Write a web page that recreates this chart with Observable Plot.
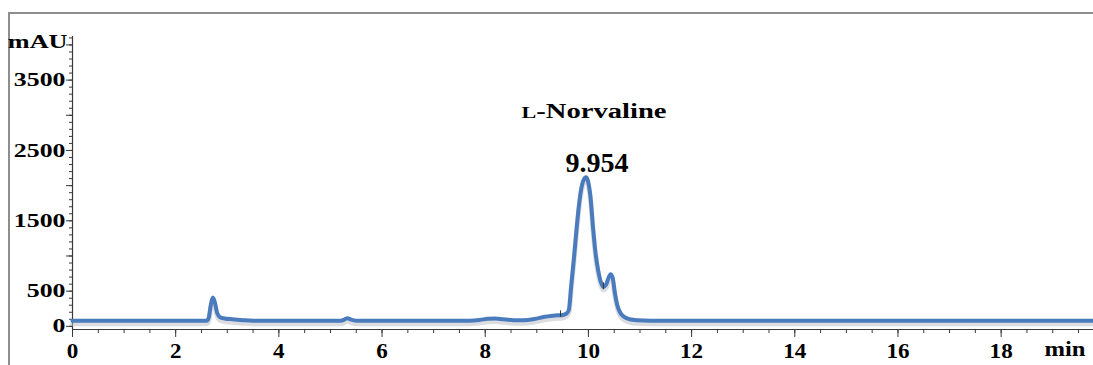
<!DOCTYPE html>
<html>
<head>
<meta charset="utf-8">
<script src="https://cdn.jsdelivr.net/npm/d3@7"></script>
<script src="https://cdn.jsdelivr.net/npm/@observablehq/plot@0.6"></script>
<style>
  html, body { margin: 0; padding: 0; background: #fff; }
  #wrap { position: relative; width: 1093px; height: 365px; overflow: hidden; }
  #border { position: absolute; left: 8px; top: 12px; width: 2000px; height: 1000px;
            border-top: 2px solid #8e8e8e; border-left: 2px solid #8e8e8e; }
  #chart { position: absolute; left: 0; top: 0; }
  #chart svg text { font-family: "Liberation Serif", "Times New Roman", serif; font-weight: bold; }
  #chart svg tspan.smallcap { font-size: 17px; }
</style>
</head>
<body>
<div id="wrap"><div id="border"></div><div id="chart"></div></div>
<script>
// Retention time (min) and absorbance (mAU)
const time = [0, 2.6, 2.64, 2.68, 2.72, 2.76, 2.8, 2.86, 2.95, 3.1, 3.3, 3.5,
  5.2, 5.28, 5.33, 5.4, 5.5, 7.7, 7.9, 8.05, 8.2, 8.35, 8.55, 8.75, 8.95, 9.15, 9.35,
  9.47, 9.52, 9.57, 9.62, 9.67, 9.72, 9.77, 9.82, 9.87, 9.92, 9.954, 9.99, 10.04, 10.09,
  10.14, 10.19, 10.24, 10.29, 10.34, 10.39, 10.43, 10.47, 10.51, 10.56, 10.62, 10.7,
  10.8, 10.95, 11.2, 19.8];
const mAU = [78, 78, 120, 300, 410, 340, 200, 130, 112, 100, 88, 80,
  78, 100, 115, 95, 80, 80, 92, 108, 112, 100, 88, 88, 105, 135, 155,
  158, 165, 180, 230, 600, 970, 1380, 1740, 1990, 2100, 2120, 2070, 1840, 1400,
  1030, 790, 630, 560, 590, 690, 740, 690, 490, 300, 190, 130,
  100, 85, 78, 78];

// Peak annotation
const peakTime = [9.954];
const peakHeight = [2120];
const peakName = ["L-Norvaline"];
const peakLabel = ["9.954"];

// Integration markers
const markerTime = [9.46, 10.29];
const markerLow = [130, 520];
const markerHigh = [220, 620];

// Axis ticks and labels
const xLabels = [0, 2, 4, 6, 8, 10, 12, 14, 16, 18];
const xMinor = d3.range(0, 19.75, 0.5);
const yLabels = [0, 500, 1500, 2500, 3500];
const yMajor = [0, 500, 1000, 1500, 2000, 2500, 3000, 3500, 4000];
const yMinor = d3.range(0, 4101, 100);
const xUnit = "min";
const yUnit = "mAU";

const data = time.map((t, i) => ({t, v: mAU[i]}));
const peaks = peakTime.map((t, i) => ({t, v: peakHeight[i], name: peakName[i], label: peakLabel[i]}));
const markers = markerTime.map((t, i) => ({t, lo: markerLow[i], hi: markerHigh[i]}));

const serif = '"Liberation Serif", "Times New Roman", serif';
const axisColor = "#3a3a3a";

const plot = Plot.plot({
  width: 1093,
  height: 365,
  marginLeft: 72,
  marginRight: 0,
  marginTop: 36,
  marginBottom: 36,
  style: {fontFamily: serif, fontWeight: "bold", background: "transparent", color: "#000", overflow: "visible"},
  x: {domain: [0, 19.79], label: null},
  y: {domain: [-45, 4120], label: null},
  marks: [
    Plot.axisY({ticks: yMinor, tickSize: 3, tickFormat: () => "", stroke: axisColor, label: null}),
    Plot.axisY({ticks: yMajor, tickSize: 6, tickPadding: 1, fontSize: 19, fontFamily: serif, fontWeight: "bold",
      tickFormat: d => yLabels.includes(d) ? String(d) : "", stroke: axisColor, label: null}),
    Plot.axisX({ticks: xMinor, tickSize: 4, tickFormat: () => "", stroke: axisColor, label: null}),
    Plot.axisX({ticks: xLabels, tickSize: 8, tickPadding: 5, fontSize: 22, fontFamily: serif, fontWeight: "bold",
      tickFormat: d => String(d), stroke: axisColor, label: null}),
    Plot.ruleX([0], {stroke: axisColor, strokeWidth: 1.2}),
    Plot.ruleY([-45], {stroke: axisColor, strokeWidth: 1.2}),
    // soft shadow under the trace
    Plot.line(data, {x: "t", y: "v", curve: "monotone-x", stroke: "#b9bcc2", strokeWidth: 5, strokeOpacity: 0.5, dy: 3}),
    Plot.line(data, {x: "t", y: "v", curve: "monotone-x", stroke: "#4a7bbd", strokeWidth: 4}),
    Plot.ruleX(markers, {x: "t", y1: "lo", y2: "hi", stroke: "#333", strokeWidth: 1}),
    Plot.text(peaks, {x: "t", y: "v", text: "label", dx: 11, dy: -14, fontSize: 27, fontFamily: serif, fontWeight: "bold", fill: "#000"}),
    Plot.text(peaks, {x: "t", y: "v", text: "name", dx: 8, dy: -66, fontSize: 22, fontFamily: serif, fontWeight: "bold", fill: "#000"}),
    Plot.text([yUnit], {frameAnchor: "top-left", dx: -5, dy: -2, textAnchor: "end", fontSize: 19, fontFamily: serif, fontWeight: "bold", fill: "#000"}),
    Plot.text([xUnit], {frameAnchor: "bottom-right", dx: -8, dy: 26, textAnchor: "end", fontSize: 22, fontFamily: serif, fontWeight: "bold", fill: "#000"})
  ]
});

// Horizontally stretch text to match the reference's wide glyphs (scale about the anchor)
function stretch(el, s) {
  const x = parseFloat(el.getAttribute("x")) || 0;
  const t = el.getAttribute("transform") || "";
  el.setAttribute("transform", `${t} translate(${x},0) scale(${s},1)`);
  if (el.hasAttribute("x")) el.setAttribute("x", 0);
}
plot.querySelectorAll("text").forEach(el => {
  const txt = el.textContent;
  const holder = el.closest("[font-size]");
  const fs = holder ? parseFloat(holder.getAttribute("font-size")) : null;
  if (txt === "L-Norvaline") {
    el.textContent = "";
    const ns = "http://www.w3.org/2000/svg";
    const a = document.createElementNS(ns, "tspan");
    a.setAttribute("class", "smallcap");
    a.textContent = "L";
    const b = document.createElementNS(ns, "tspan");
    b.textContent = "-Norvaline";
    el.appendChild(a); el.appendChild(b);
    stretch(el, 1.3);
  } else if (txt === yUnit) {
    stretch(el, 1.38);
  } else if (txt === xUnit) {
    stretch(el, 1.12);
  } else if (txt === "9.954") {
    stretch(el, 1.04);
  } else if (fs === 19) {
    stretch(el, 1.36);
  } else if (fs === 22) {
    stretch(el, 1.05);
  }
});

document.getElementById("chart").appendChild(plot);
</script>
</body>
</html>
